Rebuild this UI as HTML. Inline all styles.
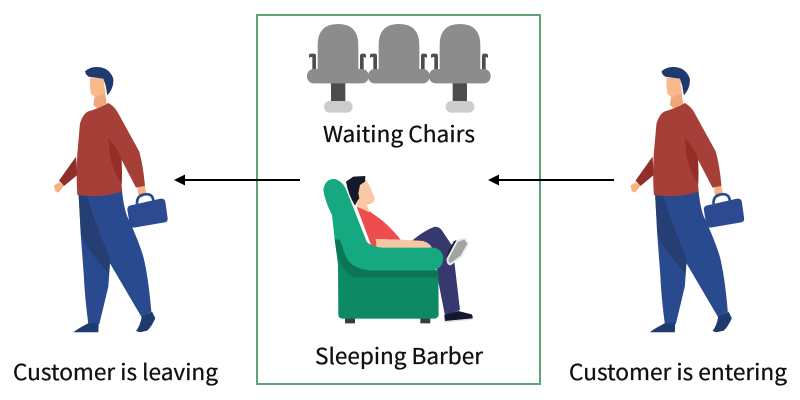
<!DOCTYPE html>
<html><head><meta charset="utf-8"><style>
html,body{margin:0;padding:0;background:#fff;width:800px;height:400px;overflow:hidden}
svg{display:block}
text{font-family:"Noto Sans CJK JP","Liberation Sans",sans-serif;font-size:22px;fill:#111;stroke:#111;stroke-width:.3px}
</style></head><body>
<svg width="800" height="400" viewBox="0 0 800 400" xmlns="http://www.w3.org/2000/svg">
<defs>
<g id="man">
<path d="M108 290L57 362L72 378L112 345Z" fill="#8f2f27"/>
<path d="M58 367L42 376L46 394L55 398L72 378Z" fill="#f7b183"/>
<path d="M165 105L195 98L200 131L172 145L160 135Z" fill="#eda778"/>
<path d="M150 54L190 54L197 100L166 112L153 102Q149 80 150 54Z" fill="#fbb98b"/>
<path d="M135 34Q150 20 172 21Q208 22 220 56Q222 85 202 106L197 76L190 56L150 51Q138 48 135 34Z" fill="#1e3a6e"/>
<path d="M293 382L315 378L319 402L305 414L294 400Z" fill="#f7b183"/>
<path d="M291 432Q290 405 315 403Q338 400 340 422" fill="none" stroke="#2b4a8f" stroke-width="8"/>
<path d="M272 436L362 416Q374 415 376 425L383 475Q384 485 374 487L282 503Q271 503 269 494L262 448Q262 438 272 436Z" fill="#2b4a8f"/>
<path d="M115 385L245 380Q250 440 262 470Q295 540 310 590Q325 650 334 755L305 772L210 610L205 680L178 792L145 792Q135 720 131 640L122 520Z" fill="#2a4a90"/>
<path d="M115 390L135 390Q165 490 210 595L207 642Q160 590 135 550Q124 530 122 510Z" fill="#253f75"/>
<path d="M145 154Q175 146 205 129Q222 138 232 155L298 275Q310 320 315 378L288 383L245 300L245 395Q190 415 112 405Q108 340 112 280L120 190Q130 160 145 154Z" fill="#a53f37"/>
<path d="M205 235Q235 265 243 295Q248 330 245 372Q222 340 210 290Z" fill="#952e26"/>
<path d="M145 790L176 790L175 817L100 817Q115 805 145 790Z" fill="#1e3a6e"/>
<path d="M305 770L336 755L346 775Q335 800 322 812L300 817L288 813Q302 795 305 770Z" fill="#1e3a6e"/>
</g>
<g id="seat">
<path d="M27 120Q28 116 33 116L42 116Q48 116 48 124L48 165L37 165L37 126L31 126L31 128L27 128Z" fill="#4d4d4d"/>
<path d="M198 120Q197 116 192 116L186 116Q180 116 180 124L180 165L191 165L191 126L194 126L194 128L198 128Z" fill="#4d4d4d"/>
<path d="M53 170L53 90Q53 27 114 27Q175 27 175 90L175 170Z" fill="#8c8c8c"/>
<rect x="21" y="162" width="185" height="43" rx="20" fill="#8c8c8c"/>
</g>
</defs>

<rect x="257" y="15" width="283" height="369" fill="none" stroke="#5fa27a" stroke-width="2"/>

<g transform="translate(40,60) scale(.3333)"><use href="#man"/></g>
<g transform="translate(616.500,60) scale(.3333)"><use href="#man"/></g>

<g transform="translate(300,15) scale(.3333)">
<rect x="93" y="203" width="43" height="58" fill="#4d4d4d"/>
<rect x="458" y="203" width="43" height="58" fill="#4d4d4d"/>
<rect x="72" y="258" width="86" height="35" rx="17" fill="#cccccc"/>
<rect x="437" y="258" width="86" height="35" rx="17" fill="#cccccc"/>
<use href="#seat"/>
<use href="#seat" x="183"/>
<use href="#seat" x="366"/>
</g>

<g transform="translate(310,165) scale(.3333)">
<path d="M105 460H135V475H105ZM331 460H361V475H331Z" fill="#3c3c3c"/>
<path d="M305 228Q345 195 375 185Q388 186 395 195L433 252L433 290L450 435L405 452L385 350L375 255Z" fill="#36386e"/>
<path d="M403 450L445 438L485 448Q490 455 487 462L405 470Z" fill="#13182c"/>
<path d="M403 468L487 460L487 464L405 473Z" fill="#dddddd"/>
<path d="M410 280L440 225L465 217L478 235L456 276L422 301Q408 300 410 280Z" fill="#ececec"/>
<path d="M416 282L443 231L463 223L472 236L452 272L422 294Q414 294 416 282Z" fill="#a3a3a3"/>
<path d="M410 280L440 225L432 228Q410 262 410 280Z" fill="#1a2036"/>
<path d="M140 125L180 140L215 165Q250 195 275 228L200 245L185 245Z" fill="#ef4d4d"/>
<path d="M197 222Q250 222 340 228Q360 235 366 248L200 248Z" fill="#f7c6a2"/>
<path d="M165 40L180 65L195 100L190 112L170 115L178 142L140 124L145 60Z" fill="#fbc7a4"/>
<path d="M170 115L190 112L172 118Z" fill="#eda778"/>
<path d="M108 50L130 35L166 33L165 50L150 60L145 85L148 100L143 106L135 122Q115 90 108 50Z" fill="#141a2c"/>
<path d="M74 222L84 300L85 450Q86 461 98 461L372 461Q384 461 386 450L385 316L150 290Z" fill="#0b8a63"/>
<path d="M74 222Q85 320 135 338L385 338L385 316L180 316L105 270L90 222Z" fill="#0b7655"/>
<path d="M40 75Q45 40 75 42Q100 50 110 78Q125 115 170 230Q185 246 220 248L370 248Q398 252 400 280Q398 310 370 316L180 316Q125 312 108 275L90 225L74 222L66 150Q45 110 40 75Z" fill="#16a881"/>
</g>

<path d="M184 180H300" stroke="#000" stroke-width="2"/>
<path d="M174 180L185 174.500V185.500Z" fill="#000"/>
<path d="M498 180H614" stroke="#000" stroke-width="2"/>
<path d="M488 180L499 174.500V185.500Z" fill="#000"/>

<text x="323" y="142" textLength="152" lengthAdjust="spacingAndGlyphs">Waiting Chairs</text>
<text x="315" y="364" textLength="168" lengthAdjust="spacingAndGlyphs">Sleeping Barber</text>
<text x="13" y="380" textLength="205" lengthAdjust="spacingAndGlyphs">Customer is leaving</text>
<text x="569" y="380" textLength="218" lengthAdjust="spacingAndGlyphs">Customer is entering</text>
</svg>
</body></html>
